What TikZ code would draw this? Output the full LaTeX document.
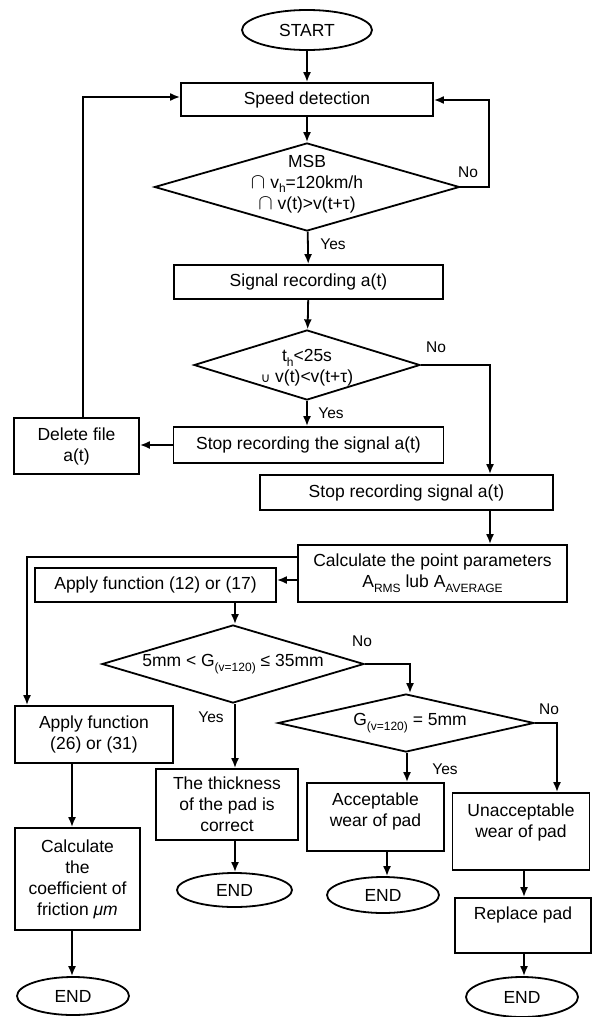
\documentclass[tikz,border=0pt]{standalone}
\usepackage{fontspec}
\setmainfont{Liberation Sans}
\newfontfamily\djv{DejaVu Sans}
\usetikzlibrary{shapes.geometric,arrows.meta}
\newcommand\lowtxt[1]{\raisebox{-0.5ex}{\fontsize{12}{12}\selectfont #1}}
\newcommand\capsym{\scalebox{1.25}{$\cap$}}
\begin{document}
\begin{tikzpicture}[x=1pt,y=-1pt, line width=1.8pt,
  font=\fontsize{17.5}{21}\selectfont,
  box/.style={draw, rectangle, inner sep=0pt, align=center},
  dia/.style={draw, diamond, inner sep=0pt},
  term/.style={draw, ellipse, inner sep=0pt},
  txt/.style={align=center, inner sep=0pt},
  arr/.style={-{Latex[length=10pt,width=8pt]}},
  lbl/.style={font=\fontsize{15.5}{18}\selectfont, inner sep=0pt}]
\useasboundingbox (0,0) rectangle (595,1017);
% nodes
\node[term, minimum width=130, minimum height=40] (start) at (307,30) {START};
\node[box, minimum width=252, minimum height=33] (speed) at (307,99.5) {Speed detection};
\node[dia, minimum width=305, minimum height=88] (d1) at (307,187) {};
\node[txt] (d1t) at (307,184) {MSB\\\capsym{} v\lowtxt{h}=120km/h\\\capsym{} v(t)>v(t+τ)};
\node[box, minimum width=269, minimum height=34] (sig) at (308.5,282) {Signal recording a(t)};
\node[dia, minimum width=226, minimum height=70] (d2) at (307,365) {};
\node[txt] (d2t) at (307,368) {t\lowtxt{h}<25s\\{\djv\fontsize{13}{15}\selectfont ∪} v(t)<v(t+τ)};
\node[box, minimum width=270, minimum height=36] (stop1) at (308.5,445) {Stop recording the signal a(t)};
\node[box, minimum width=125, minimum height=56] (del) at (76.5,446) {Delete file\\a(t)};
\node[box, minimum width=293, minimum height=35] (stop2) at (406.5,492.5) {Stop recording signal a(t)};
\node[box, minimum width=269, minimum height=57] (calc) at (432.5,573.5) {Calculate the point parameters\\A\lowtxt{RMS} lub A\lowtxt{AVERAGE}};
\node[box, minimum width=241, minimum height=34] (app12) at (155.5,585) {Apply function (12) or (17)};
\node[dia, minimum width=262, minimum height=78] (d3) at (233,664) {};
\node[txt] (d3t) at (233,664) {5mm < G\lowtxt{(v=120)} ≤ 35mm};
\node[dia, minimum width=256, minimum height=58] (d4) at (406,723) {};
\node[txt] (d4t) at (410,723) {G\lowtxt{(v=120)} = 5mm};
\node[box, minimum width=158, minimum height=57] (app26) at (94,734.5) {Apply function\\(26) or (31)};
\node[box, minimum width=142, minimum height=71] (thick) at (227,804.5) {The thickness\\of the pad is\\correct};
\node[box, minimum width=137, minimum height=68] (acc) at (375.5,817) {};
\node[txt] (acct) at (375.5,811) {Acceptable\\wear of pad};
\node[box, minimum width=137, minimum height=77] (unacc) at (521,831.5) {};
\node[txt] (unacct) at (521,822.5) {Unacceptable\\wear of pad};
\node[box, minimum width=136, minimum height=55] (repl) at (523,925.5) {};
\node[txt] (replt) at (523,915) {Replace pad};
\node[box, minimum width=125, minimum height=102] (coef) at (77.5,879) {Calculate\\the\\coefficient of\\friction \textit{μm}};
\node[term, minimum width=112, minimum height=38] (end1) at (73,996) {END};
\node[term, minimum width=115, minimum height=34] (end2) at (234.5,890) {END};
\node[term, minimum width=112, minimum height=36] (end3) at (383,895) {END};
\node[term, minimum width=112, minimum height=40] (end4) at (522,997) {END};
% connectors
\draw[arr] (start) -- (speed);
\draw[arr] (speed) -- (d1);
\draw[arr] (d1.east) -- (489,187) -- (489,100) -- (speed.east |- 0,100);
\node[lbl] (no1) at (468,172) {No};
\draw[arr] (d1) -- (sig);
\node[lbl] (yes1) at (333,244) {Yes};
\draw[arr] (sig) -- (d2);
\draw[arr] (d2.east) -- (490,365) -- (stop2.north -| 490,0);
\node[lbl] (no2) at (436,347) {No};
\draw[arr] (d2) -- (stop1.north -| 307,0);
\node[lbl] (yes2) at (331,413) {Yes};
\draw[arr] (stop1.west) -- (del.east |- stop1.west);
\draw[arr] (del.north -| 83,0) -- (83,97) -- (speed.west |- 0,97);
\draw[arr] (stop2.south -| 490,0) -- (calc.north -| 490,0);
\draw[arr] (calc.west |- 0,580) -- (app12.east |- 0,580);
\draw[arr] (calc.west |- 0,557) -- (27,557) -- (app26.north -| 27,0);
\draw[arr] (app12.south -| 235,0) -- (d3.north -| 235,0);
\draw[arr] (d3.east) -- (410,664) -- (d4.north -| 410,0);
\node[lbl] (no3) at (362,641) {No};
\draw[arr] (d3.south -| 235,0) -- (thick.north -| 235,0);
\node[lbl] (yes3) at (211,717) {Yes};
\draw[arr] (d4.east) -- (557,723) -- (unacc.north -| 557,0);
\node[lbl] (no4) at (549,709) {No};
\draw[arr] (d4.south -| 407,0) -- (acc.north -| 407,0);
\node[lbl] (yes4) at (445,769) {Yes};
\draw[arr] (app26.south -| 72,0) -- (coef.north -| 72,0);
\draw[arr] (coef.south -| 72,0) -- (end1.north -| 72,0);
\draw[arr] (thick.south -| 235,0) -- (end2.north -| 235,0);
\draw[arr] (acc.south -| 387,0) -- (end3.north -| 387,0);
\draw[arr] (unacc.south -| 524,0) -- (repl.north -| 524,0);
\draw[arr] (repl.south -| 524,0) -- (end4.north -| 524,0);
\end{tikzpicture}
\end{document}
